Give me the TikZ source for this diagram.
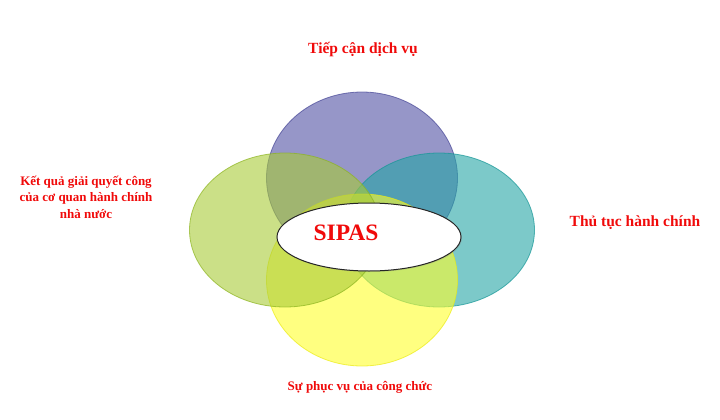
\documentclass[tikz,border=0pt]{standalone}
\usepackage{fontspec}
\setmainfont{Liberation Serif}
\usetikzlibrary{shapes.geometric,shadows}

\definecolor{tim}{RGB}{80,80,163}
\definecolor{vienTim}{RGB}{70,70,150}
\definecolor{xanhLa}{RGB}{168,203,55}
\definecolor{vienXanhLa}{RGB}{140,180,30}
\definecolor{xanhNgoc}{RGB}{37,165,165}
\definecolor{vienXanhNgoc}{RGB}{20,150,150}
\definecolor{vang}{RGB}{255,255,43}
\definecolor{vienVang}{RGB}{235,235,20}
\definecolor{chuDo}{RGB}{240,10,10}

\tikzset{
  canh/.style={ellipse, draw=#1, line width=0.8pt, fill opacity=0.6, draw opacity=0.7,
    minimum width=191pt, minimum height=172pt, inner sep=0pt},
  nhan/.style={text=chuDo, font=\bfseries\fontsize{15.5}{18}\selectfont, anchor=base},
  nhannho/.style={text=chuDo, font=\bfseries\fontsize{13}{16.5}\selectfont, anchor=base, align=center}
}

\begin{document}
\begin{tikzpicture}[x=1pt, y=-1pt]
    \useasboundingbox (0,0) rectangle (720,420);

    % Các hình elip
    \node[canh=vienTim, fill=tim] (tiepcan) at (362,178) {};
    \node[canh=vienXanhNgoc, fill=xanhNgoc, minimum height=154pt] (thutuc) at (439,230) {};
    \node[canh=vienVang, fill=vang, minimum height=172pt] (phucvu) at (362,280) {};
    \node[canh=vienXanhLa, fill=xanhLa, minimum height=154pt] (ketqua) at (285,230) {};

    % Hình elip ở giữa
    \node[ellipse, draw=black!85, line width=1pt, fill=white, minimum width=184pt, minimum height=68pt,
      drop shadow={opacity=0.25, shadow xshift=1pt, shadow yshift=-1pt}] (sipas) at (369,237) {};
    \node[text=chuDo, font=\bfseries\fontsize{23.5}{28}\selectfont] (sipastext) at (346,233) {SIPAS};

    % Nhãn
    \node[nhan] (nhantiepcan) at (363,54) {Tiếp cận dịch vụ};
    \node[nhan] (nhanthutuc) at (635,226) {Thủ tục hành chính};
    \node[nhannho] (nhanketqua) at (86,218) {Kết quả giải quyết công\\của cơ quan hành chính\\nhà nước};
    \node[nhannho] (nhanphucvu) at (360,390) {Sự phục vụ của công chức};
  \end{tikzpicture}
\end{document}
